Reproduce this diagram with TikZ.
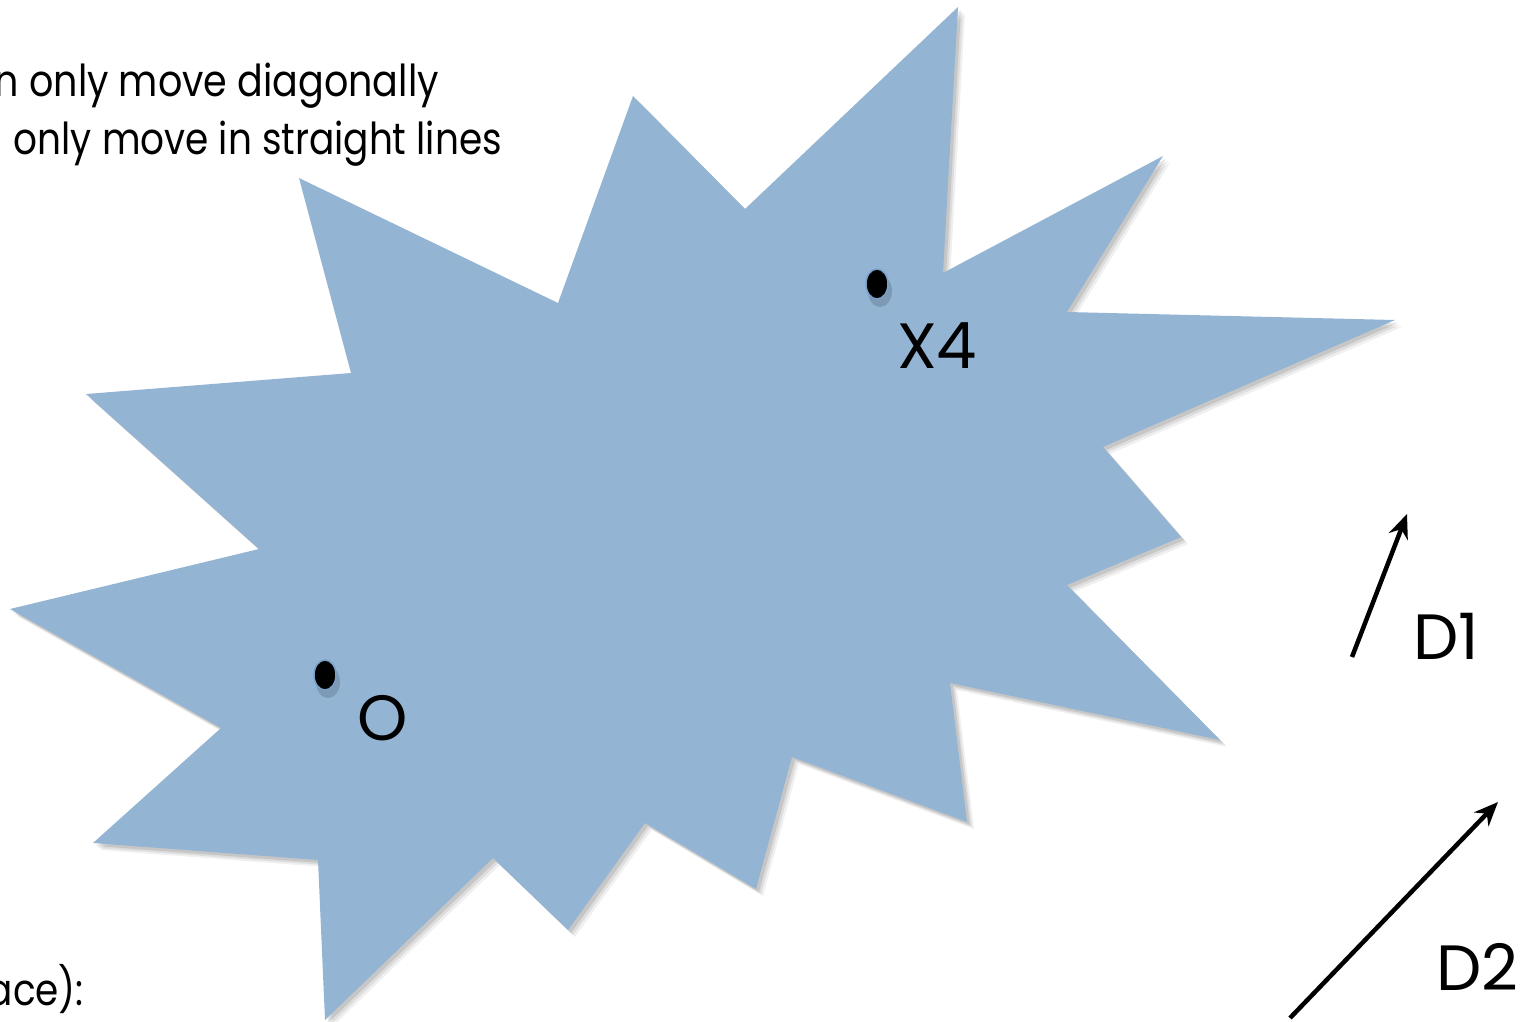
\documentclass[tikz,border=0pt]{standalone}
\usepackage{fontspec}
\setmainfont{Poppins}
\usetikzlibrary{arrows.meta,shapes.geometric}
\definecolor{starblue}{RGB}{148,180,211}
\definecolor{dotring}{RGB}{120,160,200}
\tikzset{
  lbl/.style={inner sep=0pt, font=\fontsize{64}{70}\selectfont},
  txt/.style={inner sep=0pt, font=\fontsize{44}{50}\selectfont},
  dot/.style={ellipse, fill=black, draw=dotring, line width=1.5pt, minimum width=22pt, minimum height=30pt, inner sep=0pt},
  dirarrow/.style={line width=4.5pt, -{Stealth[length=24pt,width=20pt]}},
}
\begin{document}
\begin{tikzpicture}[x=1pt,y=-1pt]
\useasboundingbox (0,0) rectangle (1534,1022);
\def\starpath{(958,7) -- (943,273) -- (1163,156) -- (1067,312) -- (1395,320) -- (1103,447) -- (1181,537) -- (1067,585) -- (1220,740) -- (950,683) -- (967,822) -- (792,757) -- (756,889) -- (645,823) -- (568,930) -- (493,858) -- (325,1020) -- (318,860) -- (93,843) -- (221,728) -- (10,609) -- (259,549) -- (86,394) -- (351,373) -- (299,178) -- (558,303) -- (633,96) -- (745,209) -- cycle}
% soft shadow
\foreach \s/\o in {7/0.06,5/0.08,3/0.10}{
  \fill[black, opacity=\o, shift={(\s,\s)}] \starpath;
}
\fill[starblue] \starpath;
% dots with soft shadow
\fill[black, opacity=0.15] (328,682) ellipse (12pt and 16pt);
\fill[black, opacity=0.15] (880,291) ellipse (12pt and 16pt);
\node[dot] (p0) at (325,675) {};
\node[dot] (p4) at (877,284) {};
% labels
\node[lbl, anchor=base west] (lo) at (357,740) {O};
\node[lbl, anchor=base west] (lx4) at (897,368) {X4};
\node[lbl, anchor=base west] (ld1) at (1413,659) {D1};
\node[lbl, anchor=base west] (ld2) at (1436,990) {D2};
% text
\node[txt, anchor=base east] (t1) at (439,97) {\resizebox{444pt}{\height}{n only move diagonally}};
\node[txt, anchor=base east] (t2) at (502,155) {\resizebox{488pt}{\height}{only move in straight lines}};
\node[txt, anchor=base east] (t3) at (84,1005) {\resizebox{96pt}{\height}{ace):}};
% direction arrows
\coordinate (d1s) at (1352,657);
\coordinate (d1e) at (1407,514);
\coordinate (d2s) at (1290,1018);
\coordinate (d2e) at (1498,802);
\draw[dirarrow] (d1s) -- (d1e);
\draw[dirarrow] (d2s) -- (d2e);
\end{tikzpicture}
\end{document}
